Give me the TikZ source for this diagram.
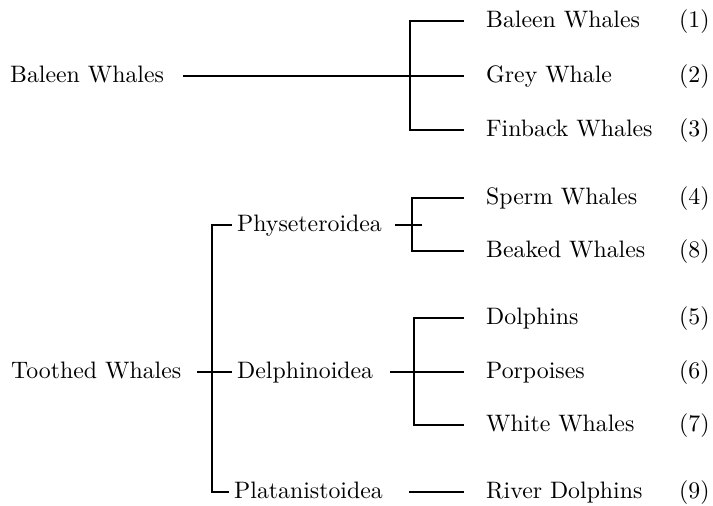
\documentclass[tikz,border=0pt]{standalone}
\usepackage{graphicx}
\usetikzlibrary{calc}
\newcommand\tx[1]{\scalebox{2.38}{#1}}
\tikzset{
  lbl/.style={anchor=west, inner sep=0pt, text height=17pt, text depth=4pt,
              font=\fontsize{10}{12}\selectfont},
  link/.style={line width=1.2pt},
}
\begin{document}
\begin{tikzpicture}[x=1pt, y=-1pt]
\useasboundingbox (0,0) rectangle (713,506);
\node[lbl] (baleen) at (10,76) {\tx{Baleen Whales}};
\node[lbl] (toothed) at (11,372) {\tx{Toothed Whales}};
\node[lbl] (phys) at (237,225) {\tx{Physeteroidea}};
\node[lbl] (delph) at (237,372) {\tx{Delphinoidea}};
\node[lbl] (plat) at (234,492) {\tx{Platanistoidea}};
\node[lbl] (balw) at (486,21) {\tx{Baleen Whales}};
\node[lbl] (grey) at (486,76) {\tx{Grey Whale}};
\node[lbl] (finback) at (486,130) {\tx{Finback Whales}};
\node[lbl] (sperm) at (486,198) {\tx{Sperm Whales}};
\node[lbl] (beaked) at (486,251) {\tx{Beaked Whales}};
\node[lbl] (dolph) at (486,318) {\tx{Dolphins}};
\node[lbl] (porp) at (486,372) {\tx{Porpoises}};
\node[lbl] (white) at (486,425) {\tx{White Whales}};
\node[lbl] (river) at (486,492) {\tx{River Dolphins}};
\node[lbl] (n1) at (679,21) {\tx{(1)}};
\node[lbl] (n2) at (679,76) {\tx{(2)}};
\node[lbl] (n3) at (679,130) {\tx{(3)}};
\node[lbl] (n4) at (679,198) {\tx{(4)}};
\node[lbl] (n8) at (679,251) {\tx{(8)}};
\node[lbl] (n5) at (679,318) {\tx{(5)}};
\node[lbl] (n6) at (679,372) {\tx{(6)}};
\node[lbl] (n7) at (679,425) {\tx{(7)}};
\node[lbl] (n9) at (679,492) {\tx{(9)}};
\coordinate (bj) at (410,76);
\coordinate (tj) at (212,372);
\coordinate (pj) at (412,225);
\coordinate (pe) at (422,225);
\coordinate (dj) at (414,372);
\draw[link, shorten <=19pt, shorten >=22pt] (baleen) -- (grey);
\draw[link, shorten <=22pt, shorten >=22pt] (balw) -| (bj) |- (finback);
\draw[link, shorten <=16pt, shorten >=5pt] (toothed) -- (delph);
\draw[link, shorten <=5pt, shorten >=5pt] (phys) -| (tj) |- (plat);
\draw[link, shorten <=13pt] (phys) -- (pe);
\draw[link, shorten <=22pt, shorten >=22pt] (sperm) -| (pj) |- (beaked);
\draw[link, shorten <=17pt, shorten >=22pt] (delph) -- (porp);
\draw[link, shorten <=22pt, shorten >=22pt] (dolph) -| (dj) |- (white);
\draw[link, shorten <=26pt, shorten >=22pt] (plat) -- (river);
\end{tikzpicture}
\end{document}
